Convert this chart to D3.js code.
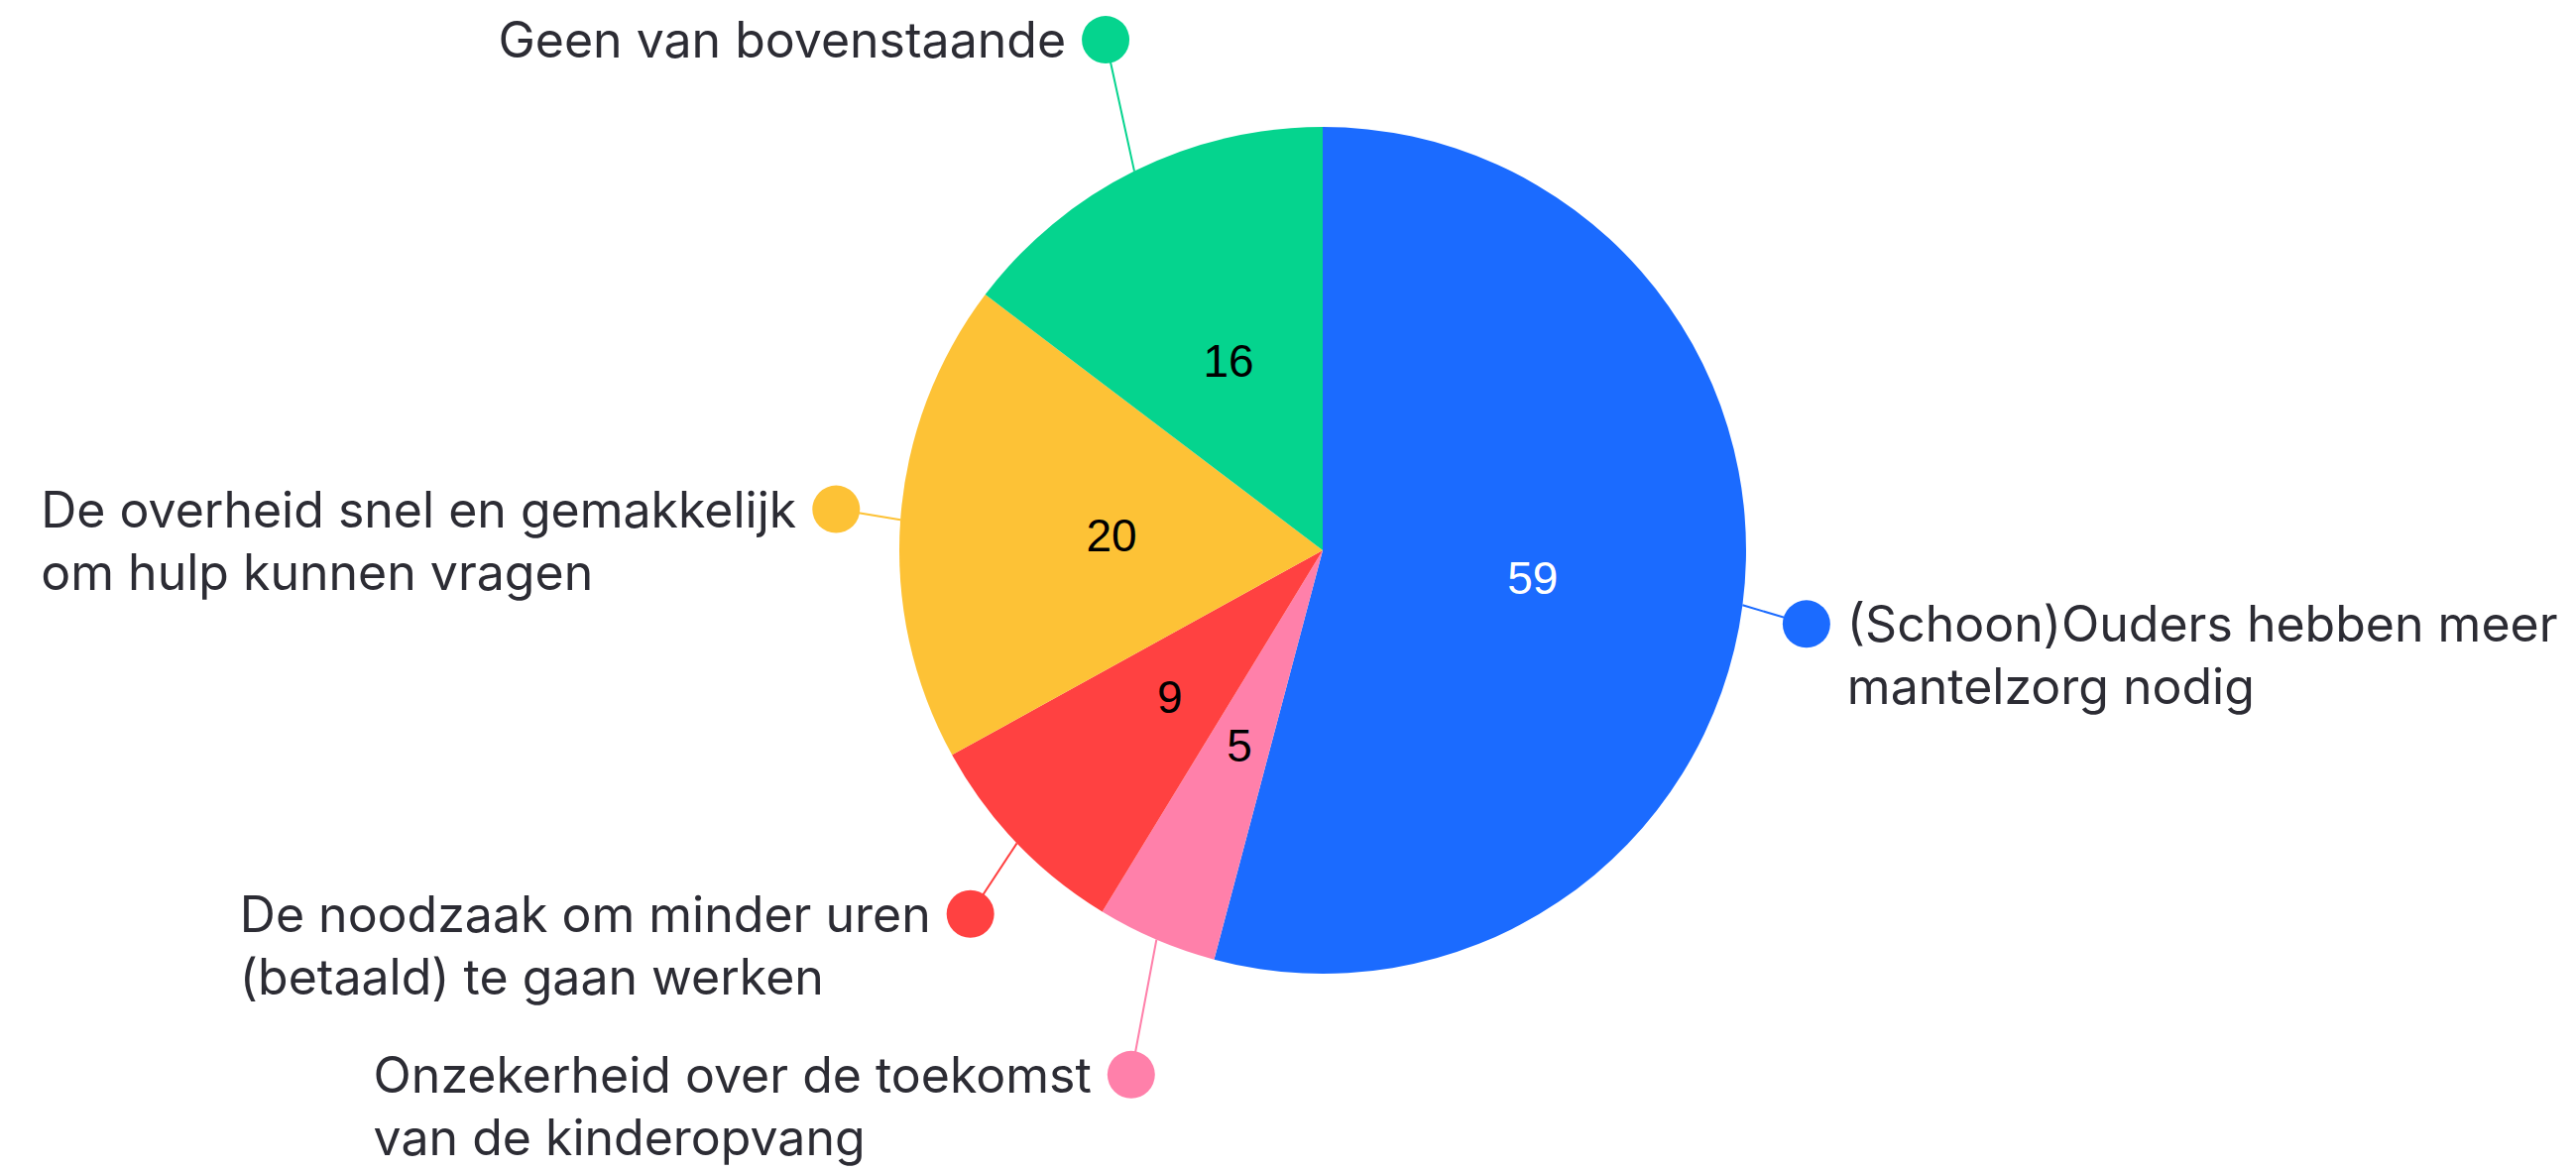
<!DOCTYPE html>
<html>
<head>
<meta charset="utf-8">
<script src="https://cdn.jsdelivr.net/npm/d3@7"></script>
<style>
  html, body { margin: 0; padding: 0; background: #fff; }
  svg { display: block; }
</style>
</head>
<body>
<div id="chart"></div>
<script>
// slices, clockwise from 12 o'clock
const categories = [
  ["(Schoon)Ouders hebben meer", "mantelzorg nodig"],
  ["Onzekerheid over de toekomst", "van de kinderopvang"],
  ["De noodzaak om minder uren", "(betaald) te gaan werken"],
  ["De overheid snel en gemakkelijk", "om hulp kunnen vragen"],
  ["Geen van bovenstaande"]
];
const values = [59, 5, 9, 20, 16];
const colors = ["#1b6bff", "#ff80aa", "#ff4141", "#fdc236", "#05d48e"];
const valueTextColors = ["#ffffff", "#000000", "#000000", "#000000", "#000000"];
// small vertical nudges for the label layout (px)
const labelShiftY = [0, 0, -31, 0, 0];

const width = 2598, height = 1182;
const cx = 1334, cy = 555, radius = 427;
const labelRx = radius + 65, labelRy = radius + 148;
const dotR = 24, lineHeight = 63, labelFont = 50;

const svg = d3.select("#chart").append("svg")
    .attr("width", width)
    .attr("height", height);

const data = values.map((v, i) => ({
    value: v, lines: categories[i], color: colors[i],
    textColor: valueTextColors[i], shift: labelShiftY[i]
}));

const pie = d3.pie().sort(null).value(d => d.value);
const arcs = pie(data);

const arc = d3.arc().innerRadius(0).outerRadius(radius);

const g = svg.append("g").attr("transform", `translate(${cx},${cy})`);

g.selectAll(".slice")
    .data(arcs)
    .enter().append("path")
    .attr("class", "slice")
    .attr("d", arc)
    .attr("fill", d => d.data.color);

g.selectAll(".value")
    .data(arcs)
    .enter().append("text")
    .attr("class", "value")
    .attr("transform", d => `translate(${arc.centroid(d)})`)
    .attr("text-anchor", "middle")
    .attr("dy", "0.36em")
    .style("font-family", "'Liberation Sans', Arial, sans-serif")
    .style("font-size", "46px")
    .attr("fill", d => d.data.textColor)
    .text(d => d.data.value);

// label anchors on an ellipse round the pie
arcs.forEach(d => {
    const a = (d.startAngle + d.endAngle) / 2;
    d.edge = [radius * Math.sin(a), -radius * Math.cos(a)];
    d.dot = [labelRx * Math.sin(a), -labelRy * Math.cos(a) + d.data.shift];
    d.right = Math.sin(a) > 0;
});

g.selectAll(".connector")
    .data(arcs)
    .enter().append("line")
    .attr("class", "connector")
    .attr("x1", d => d.edge[0])
    .attr("y1", d => d.edge[1])
    .attr("x2", d => d.dot[0])
    .attr("y2", d => d.dot[1])
    .attr("stroke", d => d.data.color)
    .attr("stroke-width", 2);

g.selectAll(".dot")
    .data(arcs)
    .enter().append("circle")
    .attr("class", "dot")
    .attr("cx", d => d.dot[0])
    .attr("cy", d => d.dot[1])
    .attr("r", dotR)
    .attr("fill", d => d.data.color);

const labels = g.selectAll(".label")
    .data(arcs)
    .enter().append("text")
    .attr("class", "label")
    .style("font-family", "Inter, 'Noto Sans', sans-serif")
    .style("font-size", labelFont + "px")
    .attr("fill", "#2c2c34");

const tspans = labels.selectAll("tspan")
    .data(d => d.data.lines.map((line, i) => ({ line, i, d })))
    .enter().append("tspan")
    .attr("y", t => t.d.dot[1] + 18 + t.i * lineHeight)
    .text(t => t.line);

// left-aligned blocks; blocks on the left end just before their dot
labels.each(function(d) {
    const widest = d3.max(d3.select(this).selectAll("tspan").nodes(), n => n.getComputedTextLength());
    d.textX = d.right ? d.dot[0] + 41 : d.dot[0] - 40 - widest;
});
tspans.attr("x", t => t.d.textX);
</script>
</body>
</html>
